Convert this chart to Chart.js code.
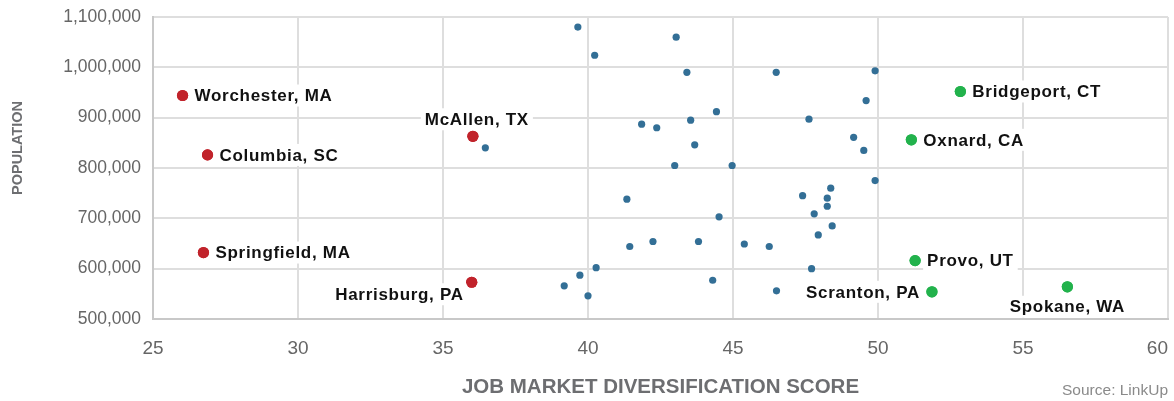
<!DOCTYPE html>
<html lang="en">
<head>
<meta charset="UTF-8" />
<title>Job market diversification vs population</title>
<script src="https://cdn.jsdelivr.net/npm/chart.js"></script>
<style>
  html, body { margin: 0; padding: 0; background: #fff; }
  #wrap { width: 1174px; height: 401px; position: relative; }
</style>
</head>
<body>
<div id="wrap"><canvas id="grafico"></canvas></div>

<script>
  // other metros (unlabelled)
  const otherScores = [39.65, 40.23, 43.04, 43.41, 46.49, 44.43, 41.85, 42.37, 43.54, 43.68,
                       36.46, 42.99, 44.97, 41.34, 49.90, 49.59, 47.62, 49.16, 49.51, 49.90,
                       48.37, 47.40, 48.25, 48.25, 47.80, 48.42, 47.94, 46.25, 47.71, 46.50,
                       44.52, 41.44, 42.24, 43.81, 45.39, 40.28, 39.72, 39.18, 40.00, 44.30];
  const otherPops = [1080000, 1024000, 1060000, 990000, 990000, 912000, 887000, 880000, 895000, 846000,
                     840000, 805000, 805000, 738000, 993000, 934000, 897000, 861000, 835000, 775000,
                     760000, 745000, 740000, 724000, 709000, 685000, 667000, 644000, 600000, 556000,
                     703000, 644000, 654000, 654000, 649000, 602000, 587000, 566000, 546000, 577000];

  // least diversified (red)
  const lowCities = ['Worchester, MA', 'Columbia, SC', 'Springfield, MA', 'Harrisburg, PA', 'McAllen, TX'];
  const lowScores = [26.02, 26.88, 26.74, 35.99, 36.03];
  const lowPops = [944000, 826000, 632000, 573000, 863000];

  // most diversified (green)
  const highCities = ['Bridgeport, CT', 'Oxnard, CA', 'Provo, UT', 'Scranton, PA', 'Spokane, WA'];
  const highScores = [52.84, 51.15, 51.28, 51.86, 56.53];
  const highPops = [952000, 856000, 616000, 554000, 564000];

  const xTicks = [25, 30, 35, 40, 45, 50, 55, 60];
  const yTicks = [500000, 600000, 700000, 800000, 900000, 1000000, 1100000];

  // where each name sits relative to its dot
  const labelSide = {
    'Worchester, MA': 'right', 'Columbia, SC': 'right', 'Springfield, MA': 'right',
    'Harrisburg, PA': 'belowLeft', 'McAllen, TX': 'above',
    'Bridgeport, CT': 'right', 'Oxnard, CA': 'right', 'Provo, UT': 'right',
    'Scranton, PA': 'left', 'Spokane, WA': 'below'
  };

  const toPts = (xs, ys) => xs.map((x, i) => ({ x: x, y: ys[i] }));

  const cityLabels = {
    id: 'cityLabels',
    afterDatasetsDraw(chart) {
      const ctx = chart.ctx;
      ctx.save();
      ctx.font = "bold 17px 'Liberation Sans', Arial, sans-serif";
      ctx.letterSpacing = '0.7px';
      ctx.textBaseline = 'middle';
      [[1, lowCities], [2, highCities]].forEach(([di, names]) => {
        const meta = chart.getDatasetMeta(di);
        names.forEach((name, i) => {
          const p = meta.data[i];
          let tx = p.x, ty = p.y, align = 'left';
          const side = labelSide[name];
          if (side === 'right') { tx = p.x + 12; }
          else if (side === 'left') { tx = p.x - 12; align = 'right'; }
          else if (side === 'above') { tx = p.x + 4; ty = p.y - 17; align = 'center'; }
          else if (side === 'below') { ty = p.y + 20; align = 'center'; }
          else if (side === 'belowLeft') { tx = p.x - 8; ty = p.y + 12; align = 'right'; }
          const w = ctx.measureText(name).width;
          let bx = align === 'left' ? tx : align === 'right' ? tx - w : tx - w / 2;
          ctx.fillStyle = '#fff';
          ctx.fillRect(bx - 4, ty - 11, w + 8, 22);
          ctx.fillStyle = '#111';
          ctx.textAlign = align;
          ctx.fillText(name, tx, ty + 1);
        });
      });
      // redraw coloured dots over any label box
      [1, 2].forEach(di => chart.getDatasetMeta(di).data.forEach(el => el.draw(ctx)));
      ctx.restore();
    },
    afterDraw(chart) {
      const ctx = chart.ctx;
      ctx.save();
      ctx.fillStyle = '#6d6e71';
      ctx.font = "bold 14.5px 'Liberation Sans', Arial, sans-serif";
      ctx.textAlign = 'center';
      ctx.textBaseline = 'middle';
      ctx.translate(18, 148);
      ctx.rotate(-Math.PI / 2);
      ctx.fillText('POPULATION', 0, 0);
      ctx.restore();

      ctx.save();
      ctx.fillStyle = '#8a8a8a';
      ctx.font = "15.5px 'Liberation Sans', Arial, sans-serif";
      ctx.textAlign = 'right';
      ctx.textBaseline = 'middle';
      ctx.fillText('Source: LinkUp', 1168, 391);
      ctx.restore();
    }
  };

  new Chart(document.getElementById('grafico'), {
    type: 'scatter',
    data: {
      datasets: [
        { label: 'Other', data: toPts(otherScores, otherPops), backgroundColor: '#336f96',
          pointRadius: 3.6, borderWidth: 0 },
        { label: 'Least diversified', data: toPts(lowScores, lowPops), backgroundColor: '#c1232b',
          pointRadius: 5.6, borderWidth: 0 },
        { label: 'Most diversified', data: toPts(highScores, highPops), backgroundColor: '#22b24c',
          pointRadius: 5.6, borderWidth: 0 }
      ]
    },
    options: {
      responsive: true,
      maintainAspectRatio: false,
      animation: false,
      layout: { padding: { top: 17, right: 6, left: 0, bottom: 0 } },
      plugins: { legend: { display: false }, tooltip: { enabled: false } },
      scales: {
        x: {
          type: 'linear', min: 25, max: 60,
          afterFit: s => { s.height = 82; s.paddingLeft = 0; s.paddingRight = 0; },
          afterBuildTicks: s => { s.ticks = xTicks.map(v => ({ value: v })); },
          grid: { color: '#dedede', lineWidth: 2, drawTicks: false },
          border: { color: '#c8c8c8', width: 2 },
          ticks: { color: '#666', padding: 18, font: { family: "'Liberation Sans', Arial", size: 19 },
                   // last label sits inside the plot edge
                   callback: v => v === 60 ? '60\u2007\u2007' : String(v) },
          title: { display: true, text: 'JOB MARKET DIVERSIFICATION SCORE', color: '#6d6e71',
                   padding: { top: 0, bottom: 1 },
                   font: { family: "'Liberation Sans', Arial", size: 20.5, weight: 'bold' } }
        },
        y: {
          type: 'linear', min: 500000, max: 1100000,
          afterFit: s => { s.width = 153; s.paddingTop = 0; s.paddingBottom = 0; },
          afterBuildTicks: s => { s.ticks = yTicks.map(v => ({ value: v })); },
          grid: { color: '#dedede', lineWidth: 2, drawTicks: false },
          border: { color: '#c8c8c8', width: 2 },
          ticks: { color: '#666', padding: 12, font: { family: "'Liberation Sans', Arial", size: 17.5 },
                   callback: v => v.toLocaleString('en-US') }
        }
      }
    },
    plugins: [cityLabels]
  });
</script>
</body>
</html>
